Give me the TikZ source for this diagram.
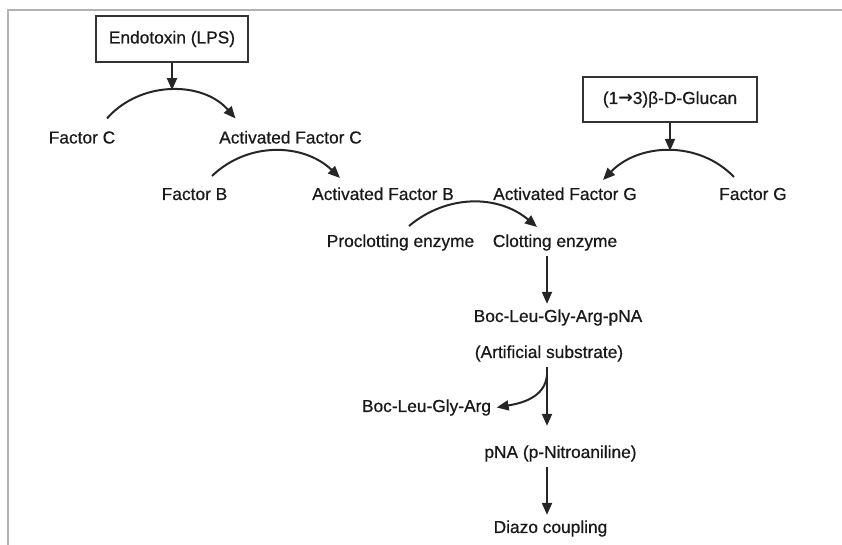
\documentclass[tikz,border=0pt]{standalone}
\usepackage{fontspec}
\setmainfont{Liberation Sans}
\newfontfamily\lblfont{Liberation Sans}[FakeBold=0.6]
\newfontfamily\arrowfont{DejaVu Sans}
\usetikzlibrary{arrows.meta, calc}

\begin{document}
\begin{tikzpicture}[
  x=0.75pt, y=0.75pt,
  lbl/.style={font=\lblfont\fontsize{13}{15}\selectfont, text=black!90, anchor=base,
              inner sep=4pt},
  srcbox/.style={draw=black!80, line width=1.2pt, fill=white, text=black!90,
                 font=\lblfont\fontsize{13}{15}\selectfont, inner sep=4pt},
  arr/.style={-{Triangle[length=9pt, width=7.5pt]}, line width=1.5pt, draw=black!85},
  frame/.style={draw=black!30, line width=1.4pt}
]
  \useasboundingbox (0,0) rectangle (842,545);
  \draw[frame] (8,0) -- (8,535) -- (842,535);

  % ========== ACTIVATORS ==========
  \node[srcbox, minimum width=114pt, minimum height=34.5pt] (lps) at (172,506)
    {Endotoxin (LPS)};
  \node[srcbox, minimum width=130.5pt, minimum height=33.75pt] (glucan) at (670,445.5)
    {(1{\arrowfont\bfseries →}3)β-D-Glucan};

  % ========== FACTORS ==========
  \node[lbl] (fc)   at (82,401.5)    {Factor C};
  \node[lbl] (afc)  at (290.5,401.5) {Activated Factor C};
  \node[lbl] (fb)   at (194.5,345)   {Factor B};
  \node[lbl] (afb)  at (383,345)     {Activated Factor B};
  \node[lbl] (afg)  at (565,345)     {Activated Factor G};
  \node[lbl] (fg)   at (753,345)     {Factor G};
  \node[lbl] (pro)  at (400.5,298)   {Proclotting enzyme};
  \node[lbl] (clot) at (555,298)     {Clotting enzyme};

  % ========== SUBSTRATE ==========
  \node[lbl] (boc)   at (558,223)   {Boc-Leu-Gly-Arg-pNA};
  \node[lbl] (art)   at (549,187)   {(Artificial substrate)};
  \node[lbl] (bocr)  at (426.5,133) {Boc-Leu-Gly-Arg};
  \node[lbl] (pna)   at (560.5,87)  {pNA (p-Nitroaniline)};
  \node[lbl] (diazo) at (550.5,12)  {Diazo coupling};

  \coordinate (spine) at (547,0);
  \coordinate (split) at (547,170);

  % ======== CASCADE ARCS ========
  \draw[arr] ([shift={(25,25)}]fc.base) to[out=49, in=131]
    node[shape=coordinate, pos=0.5] (hitC) {} ([shift={(-55,25)}]afc.base);
  \draw[arr] (lps.south) -- (lps.south |- hitC);

  \draw[arr] ([shift={(17.5,24)}]fb.base) to[out=44, in=136]
    ([shift={(-43,22)}]afb.base);

  \draw[arr] ([shift={(-19,23)}]fg.base) to[out=134, in=46]
    node[shape=coordinate, pos=0.5] (hitG) {} ([shift={(38,20)}]afg.base);
  \draw[arr] (glucan.south) -- (glucan.south |- hitG);

  \draw[arr] ([shift={(8.5,21)}]pro.base) to[out=40, in=140]
    ([shift={(-18,20)}]clot.base);

  % ======== SUBSTRATE CLEAVAGE ========
  \draw[arr] (clot.south -| spine) -- (boc.north -| spine);
  \draw[arr] (art.south -| spine) -- ($(pna.north -| spine)+(0,14)$);
  \draw[arr] (split) to[out=-95, in=10] (bocr.east);
  \draw[arr] (pna.south -| spine) -- (diazo.north -| spine);

\end{tikzpicture}
\end{document}
